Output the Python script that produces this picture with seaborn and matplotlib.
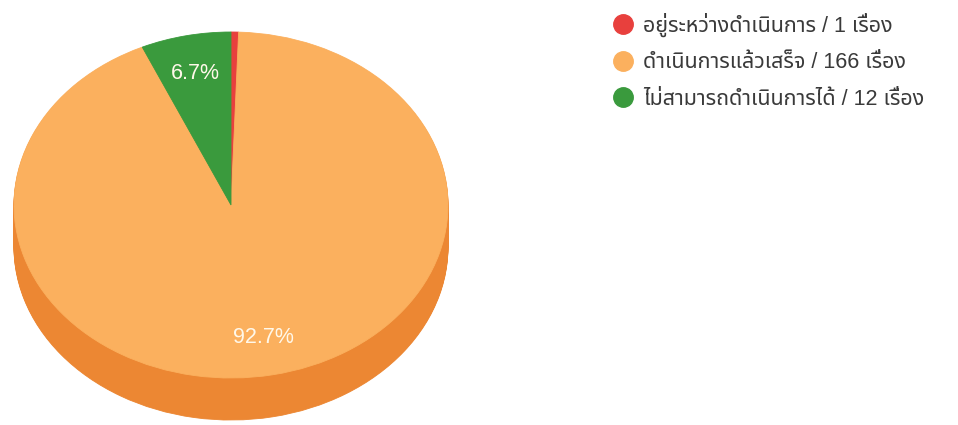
import numpy as np
import matplotlib
matplotlib.use("Agg")
import matplotlib.pyplot as plt
from matplotlib import font_manager
from matplotlib.lines import Line2D
import seaborn as sns

# data
statuses = ["อยู่ระหว่างดำเนินการ", "ดำเนินการแล้วเสร็จ", "ไม่สามารถดำเนินการได้"]
counts = [1, 166, 12]
unit = "เรื่อง"

top_colors = ["#e8403d", "#fbb05e", "#3a9a3d"]
side_colors = ["#b83030", "#ec8733", "#2d7a2f"]
legend_colors = ["#e8403d", "#fbb05e", "#3a9a3d"]

sns.set_theme(style="white")


def find_thai_font():
    # look for any installed font that has Thai glyphs
    try:
        from fontTools.ttLib import TTFont
    except ImportError:
        return None
    found = []
    for path in font_manager.findSystemFonts():
        try:
            f = TTFont(path, fontNumber=0, lazy=True)
            cmap = f.getBestCmap() or {}
            if 0x0E01 in cmap and 0x0E49 in cmap:
                name = font_manager.FontProperties(fname=path).get_name()
                found.append(name)
        except Exception:
            continue
    if not found:
        return None
    for pref in ["Noto Sans Thai", "Loma", "Garuda", "Tlwg Typo", "Sarabun"]:
        if pref in found:
            return pref
    return found[0]


thai_font = find_thai_font()
families = ["Liberation Sans"] + ([thai_font] if thai_font else []) + ["DejaVu Sans"]
plt.rcParams["font.family"] = families

fig = plt.figure(figsize=(9.58, 4.25), dpi=100)
ax = fig.add_axes([0, 0, 1, 1])

# side of the 3D pie: stack darker copies going down
depth = 0.243
n_layers = 44
for off in np.linspace(-depth, 0, n_layers)[:-1]:
    wedges, _ = ax.pie(counts, colors=side_colors, startangle=90, counterclock=False,
                       center=(0, off), radius=1.0,
                       wedgeprops=dict(linewidth=0.6))
    for w in wedges:
        w.set_edgecolor(w.get_facecolor())


def pct_label(p):
    return f"{p:.1f}%" if p >= 2 else ""


# top face
wedges, _, autotexts = ax.pie(counts, colors=top_colors, startangle=90, counterclock=False,
                              center=(0, 0), radius=1.0, autopct=pct_label,
                              pctdistance=0.78,
                              wedgeprops=dict(linewidth=0.6),
                              textprops=dict(color="#fff8ea", fontsize=15.5))
for w in wedges:
    w.set_edgecolor(w.get_facecolor())

ax.set_aspect("auto")
ax.set_xlim((0 - 231) / 217, (958 - 231) / 217)
ax.set_ylim((205 - 425) / 173, (205 - 0) / 173)
ax.axis("off")

# legend with round markers
handles = [Line2D([], [], linestyle="none", marker="o", markersize=14,
                  markerfacecolor=c, markeredgecolor=c)
           for c in legend_colors]
labels = [f"{s} / {n} {unit}" for s, n in zip(statuses, counts)]
fig.legend(handles, labels, loc="upper left", bbox_to_anchor=(612 / 958, 1 - 12.5 / 425),
           frameon=False, fontsize=15.5, labelcolor="#3a3a3a",
           handlelength=1.0, handletextpad=0.44, labelspacing=0.725,
           borderaxespad=0, borderpad=0)

fig.savefig("out.png", dpi=100)
